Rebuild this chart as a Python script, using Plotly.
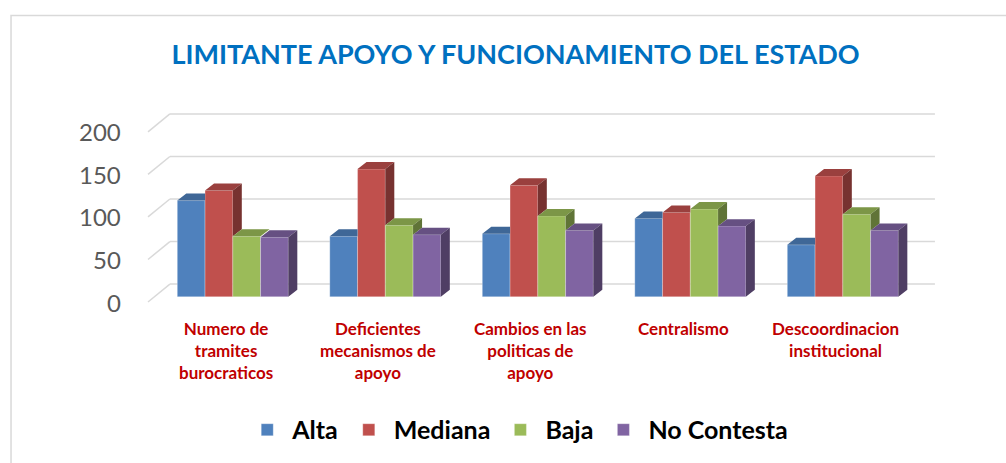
import plotly.graph_objects as go

# ---------------- data ----------------
categories = [
    "Numero de<br>tramites<br>burocraticos",
    "Deficientes<br>mecanismos de<br>apoyo",
    "Cambios en las<br>politicas de<br>apoyo",
    "Centralismo",
    "Descoordinacion<br>institucional",
]
series_names = ["Alta", "Mediana", "Baja", "No Contesta"]
alta = [113, 71, 74, 92, 61]
mediana = [125, 150, 131, 99, 142]
baja = [71, 84, 95, 103, 97]
no_contesta = [70, 73, 78, 83, 78]
y_ticks = [0, 50, 100, 150, 200]

title_text = "LIMITANTE APOYO Y FUNCIONAMIENTO DEL ESTADO"

# ---------------- style ----------------
front_cols = ["#4F81BD", "#C0504D", "#9BBB59", "#8064A2"]
top_cols = ["#3F6797", "#9A403E", "#7C9647", "#665082"]
side_cols = ["#315075", "#773230", "#607437", "#4F3E64"]

FONT = "Lato"
GROUP_W = 0.728
BAR_W = GROUP_W / 4
DX = 0.059      # depth offset (x units)
DY = 8.2        # depth offset (value units)
BACK_OFF = 14.85  # back wall vertical shift (value units)
FRONT_OFF = -6.2  # front edge vertical shift (value units)
X_BACK_L, X_FRONT_L, X_BACK_R = -0.4125, -0.556, 4.604

all_vals = [alta, mediana, baja, no_contesta]
xs = list(range(len(categories)))

fig = go.Figure()

# front faces (real bars)
for i, (name, vals) in enumerate(zip(series_names, all_vals)):
    fig.add_trace(go.Bar(
        x=xs, y=vals, name=name, width=BAR_W,
        offset=-GROUP_W / 2 + i * BAR_W,
        marker=dict(color=front_cols[i], line=dict(width=0.8, color="rgba(255,255,255,0.35)")),
        hoverinfo="y+name",
    ))

# top and side faces derived from the same values
for i, vals in enumerate(all_vals):
    tx, ty, sx, sy = [], [], [], []
    for g, v in enumerate(vals):
        xl = g - GROUP_W / 2 + i * BAR_W
        xr = xl + BAR_W
        nxt = all_vals[i + 1][g] if i < 3 else 0
        if i < 3 and nxt >= v:
            tx += [xl, xr, xr, xl + DX, xl, None]
            ty += [v, v, v + DY, v + DY, v, None]
        else:
            tx += [xl, xr, xr + DX, xl + DX, xl, None]
            ty += [v, v, v + DY, v + DY, v, None]
        if nxt < v:
            sx += [xr, xr + DX, xr + DX, xr, xr, None]
            sy += [nxt, nxt + DY, v + DY, v, nxt, None]
    fig.add_trace(go.Scatter(x=tx, y=ty, mode="lines", fill="toself",
                             fillcolor=top_cols[i], line=dict(width=0),
                             showlegend=False, hoverinfo="skip"))
    if sx:
        fig.add_trace(go.Scatter(x=sx, y=sy, mode="lines", fill="toself",
                                 fillcolor=side_cols[i], line=dict(width=0),
                                 showlegend=False, hoverinfo="skip"))

# gridlines on back wall and left wall
shapes = []
for t in y_ticks:
    shapes.append(dict(type="line", xref="x", yref="y", layer="below",
                       x0=X_BACK_L, x1=X_BACK_R, y0=t + BACK_OFF, y1=t + BACK_OFF,
                       line=dict(color="#D9D9D9", width=1.5)))
    shapes.append(dict(type="line", xref="x", yref="y", layer="below",
                       x0=X_FRONT_L, x1=X_BACK_L, y0=t + FRONT_OFF, y1=t + BACK_OFF,
                       line=dict(color="#D9D9D9", width=1.5)))
# chart border
shapes.append(dict(type="rect", xref="paper", yref="paper",
                   x0=-0.1602, x1=2.0, y0=-2.0, y1=1.4048,
                   line=dict(color="#D9D9D9", width=1.5), layer="below"))

annotations = []
for t in y_ticks:
    annotations.append(dict(xref="paper", yref="y", x=-0.0211, y=t + FRONT_OFF,
                            xanchor="right", yanchor="middle", showarrow=False,
                            text=str(t), font=dict(family=FONT, size=24, color="#595959")))
for g, c in enumerate(categories):
    annotations.append(dict(xref="x", yref="paper", x=g - 0.046, y=-0.033,
                            xanchor="center", yanchor="top", showarrow=False,
                            text="<b>" + c + "</b>", align="center",
                            font=dict(family=FONT, size=17, color="#C00000")))

fig.update_layout(
    width=1006, height=463,
    margin=dict(l=140, r=61, t=100, b=153),
    paper_bgcolor="white", plot_bgcolor="rgba(0,0,0,0)",
    barmode="overlay",
    title=dict(text="<b>" + title_text + "</b>", x=515.5 / 1006, xanchor="center",
               y=1 - 55 / 463, yanchor="middle", yref="container",
               font=dict(family=FONT, size=27, color="#0070C0")),
    xaxis=dict(range=[-0.6085, 4.670], visible=False, fixedrange=True),
    yaxis=dict(range=[-14.39, 231.2], visible=False, fixedrange=True),
    legend=dict(orientation="h", x=0.127, xanchor="left", y=-0.5714, yanchor="middle",
                itemwidth=40,
                font=dict(family=FONT, size=25, color="#000000", weight="bold"),
                bgcolor="rgba(0,0,0,0)", traceorder="normal"),
    shapes=shapes, annotations=annotations,
    showlegend=True,
)

fig.write_html("out.html", config={"displayModeBar": False},
               post_script="document.body.style.margin='0px';document.body.style.padding='0px';")
